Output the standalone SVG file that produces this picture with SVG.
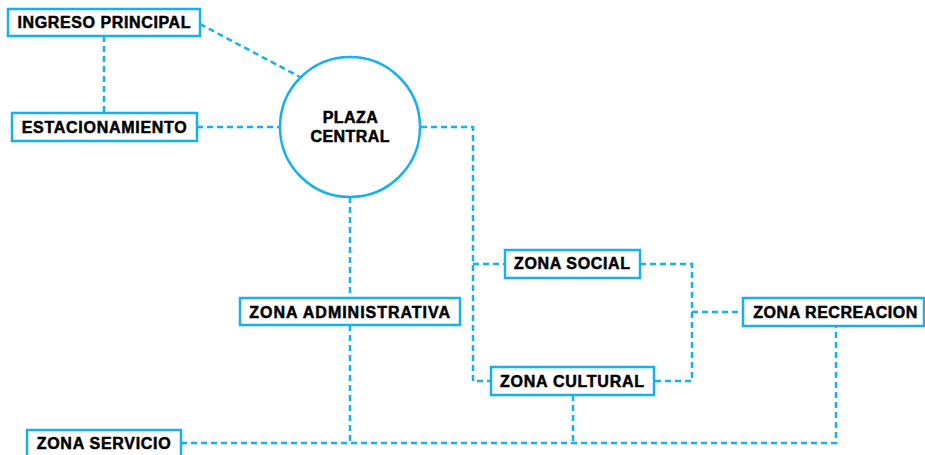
<svg xmlns="http://www.w3.org/2000/svg" width="925" height="455" viewBox="0 0 925 455">
<style>
.box{fill:#fff;stroke:#14b1ee;stroke-width:2.5}
.lbl{font-family:"Liberation Sans",Arial,sans-serif;font-weight:bold;font-size:16px;fill:#000;stroke:#000;stroke-width:0.5;text-anchor:middle}
.con{fill:none;stroke:#14b1ee;stroke-width:2.5;stroke-dasharray:6 4}
</style>
<rect width="925" height="455" fill="#fff"/>
<g id="connectors">
<path class="con" d="M104 36 V113"/>
<path class="con" d="M200 24 L300 77"/>
<path class="con" d="M197 127 H279"/>
<path class="con" d="M421 127 H473 V381 H491"/>
<path class="con" d="M473 264 H505"/>
<path class="con" d="M640 264 H692 V381 H654"/>
<path class="con" d="M692 312 H743"/>
<path class="con" d="M350 197 V298"/>
<path class="con" d="M350 325 V443"/>
<path class="con" d="M181 443 H836 V326"/>
<path class="con" d="M573 395 V443"/>
</g>
<g id="ingreso-principal">
<rect class="box" x="8" y="9" width="192" height="27"/>
<text class="lbl" x="104" y="28.3" textLength="173">INGRESO PRINCIPAL</text>
</g>
<g id="estacionamiento">
<rect class="box" x="12" y="113" width="185" height="28"/>
<text class="lbl" x="104.2" y="132.5" textLength="165">ESTACIONAMIENTO</text>
</g>
<g id="plaza-central">
<circle class="box" cx="350" cy="127" r="70"/>
<text class="lbl" x="350.2" y="123.3" textLength="55">PLAZA</text>
<text class="lbl" x="350" y="141.7" textLength="79">CENTRAL</text>
</g>
<g id="zona-social">
<rect class="box" x="505" y="250" width="135" height="28"/>
<text class="lbl" x="572" y="269.3" textLength="116">ZONA SOCIAL</text>
</g>
<g id="zona-cultural">
<rect class="box" x="491" y="367" width="163" height="28"/>
<text class="lbl" x="572" y="386.7" textLength="144">ZONA CULTURAL</text>
</g>
<g id="zona-recreacion">
<rect class="box" x="743" y="298" width="181" height="28"/>
<text class="lbl" x="835.3" y="317.7" textLength="164">ZONA RECREACION</text>
</g>
<g id="zona-administrativa">
<rect class="box" x="240" y="298" width="220" height="27"/>
<text class="lbl" x="349.7" y="317.7" textLength="200.7">ZONA ADMINISTRATIVA</text>
</g>
<g id="zona-servicio">
<rect class="box" x="27" y="430" width="154" height="30"/>
<text class="lbl" x="103.7" y="448.7" textLength="134">ZONA SERVICIO</text>
</g>
</svg>
